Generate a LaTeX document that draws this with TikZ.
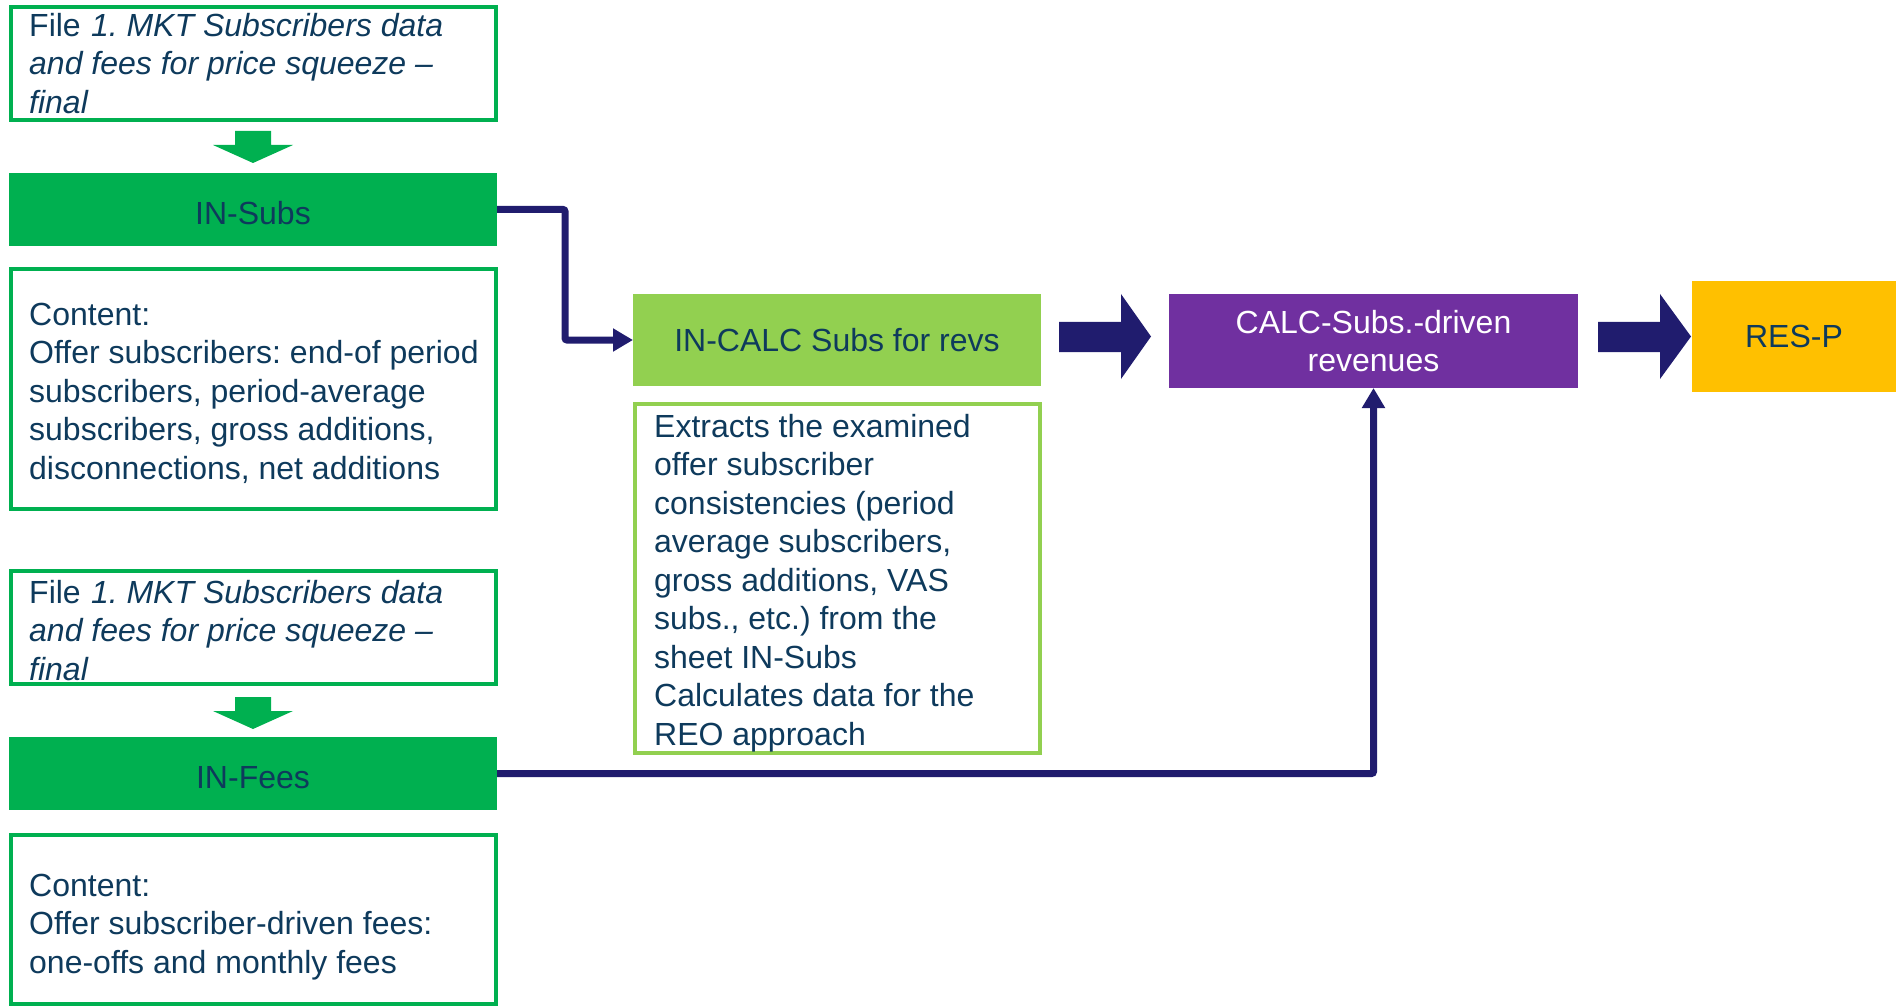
\documentclass[tikz,border=0pt]{standalone}
\usepackage{fontspec}
\setmainfont{Liberation Sans}
\usetikzlibrary{arrows.meta}
\definecolor{txt}{HTML}{0E3A5C}
\definecolor{kgreen}{HTML}{00B050}
\definecolor{lgreen}{HTML}{92D050}
\definecolor{navy}{HTML}{201C6E}
\definecolor{kpurple}{HTML}{7030A0}
\definecolor{kgold}{HTML}{FFC000}
% uniform word spacing after punctuation
\frenchspacing
% fixed first-line height so text blocks can be placed by their top edge
\newcommand\fl{\rule{0pt}{25pt}}
\tikzset{
  every node/.style={font=\fontsize{32}{38.5}\selectfont\frenchspacing, text=txt},
  outline/.style={draw=kgreen, line width=4pt, inner sep=0pt, outer sep=0pt},
  lightoutline/.style={draw=lgreen, line width=4pt, inner sep=0pt, outer sep=0pt},
  sheet/.style={inner sep=0pt, outer sep=0pt},
  lowtext/.style={text height=30pt, text depth=0pt},
  body/.style={anchor=north west, align=left, inner sep=0pt},
  link/.style={draw=navy, line width=7pt, rounded corners=2pt,
    -{Triangle[length=20pt,width=22pt]}},
  downarrow/.style={fill=kgreen},
  blockarrow/.style={fill=navy},
}
\begin{document}
\begin{tikzpicture}[x=1pt,y=-1pt]
\useasboundingbox (0,0) rectangle (1898,1008);

% ---- left column: subscribers ----
\node[outline, minimum width=485pt, minimum height=113pt] (file1) at (253,63.5) {};
\node[body] (file1txt) at (29,11) {\fl File\hspace{0.32em}\textit{1. MKT Subscribers data}\\
  \textit{and fees for price squeeze –}\\ \textit{final}};
\fill[downarrow] (235,131) -- (271,131) -- (271,145) -- (293,145) -- (253,163)
  -- (213,145) -- (235,145) -- cycle;
\node[sheet, lowtext, fill=kgreen, minimum width=488pt, minimum height=73pt] (insubs) at (253,209.5) {IN-Subs};
\node[outline, minimum width=485pt, minimum height=239.5pt] (cont1) at (253,389) {};
\node[body] (cont1txt) at (29,300) {\fl Content:\\ Offer subscribers: end-of period\\
  subscribers, period-average\\ subscribers, gross additions,\\ disconnections, net additions};

% ---- left column: fees ----
\node[outline, minimum width=485pt, minimum height=113pt] (file2) at (253,627.5) {};
\node[body] (file2txt) at (29,578) {\fl File\hspace{0.32em}\textit{1. MKT Subscribers data}\\
  \textit{and fees for price squeeze –}\\ \textit{final}};
\fill[downarrow] (235,697) -- (271,697) -- (271,711) -- (293,711) -- (253,729)
  -- (213,711) -- (235,711) -- cycle;
\node[sheet, lowtext, fill=kgreen, minimum width=488pt, minimum height=73pt] (infees) at (253,773.5) {IN-Fees};
\node[outline, minimum width=485pt, minimum height=169pt] (cont2) at (253,919.5) {};
\node[body] (cont2txt) at (29,871) {\fl Content:\\ Offer subscriber-driven fees:\\
  one-offs and monthly fees};

% ---- calculation sheets ----
\node[sheet, fill=lgreen, minimum width=408pt, minimum height=92pt] (incalc) at (837,340) {IN-CALC Subs for revs};
\node[lightoutline, minimum width=405pt, minimum height=349pt] (desc) at (837.5,578.5) {};
\node[body] (desctxt) at (654,412) {\fl Extracts the examined\\ offer subscriber\\
  consistencies (period\\ average subscribers,\\ gross additions, VAS\\
  subs., etc.) from the\\ sheet IN-Subs\\ Calculates data for the\\ REO approach};
\node[sheet, fill=kpurple, minimum width=409pt, minimum height=94pt, align=center,
  text=white] (calc) at (1373.5,341) {CALC-Subs.-driven\\ revenues};
\node[sheet, fill=kgold, minimum width=204pt, minimum height=111pt] (resp) at (1794,336.5) {RES-P};

% ---- block arrows between the sheets ----
\fill[blockarrow] (1059,322) -- (1121,322) -- (1121,294) -- (1151,336.5) -- (1121,379)
  -- (1121,352) -- (1059,352) -- cycle;
\fill[blockarrow] (1598,322) -- (1660,322) -- (1660,294) -- (1691,336.5) -- (1660,379)
  -- (1660,352) -- (1598,352) -- cycle;

% ---- connectors ----
\draw[link] (insubs.east) -- ++(68,0) |- (incalc.west);
\draw[link] (infees.east) -| (calc.south);
\end{tikzpicture}
\end{document}
